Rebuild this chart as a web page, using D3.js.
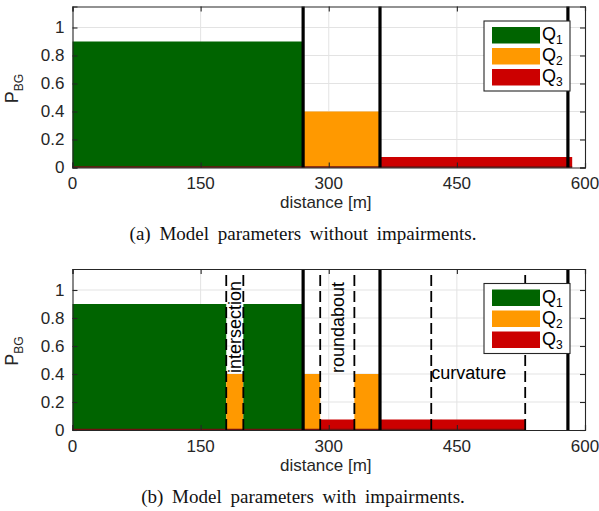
<!DOCTYPE html>
<html>
<head>
<meta charset="utf-8">
<script src="https://cdn.jsdelivr.net/npm/d3@7"></script>
<style>
  body { margin: 0; background: #fff; }
  svg { display: block; font-family: "Liberation Sans", Arial, Helvetica, sans-serif; }
</style>
</head>
<body>
<svg id="chart" width="599" height="511"></svg>
<script>
// quality levels and their colours
const levels = ['Q1', 'Q2', 'Q3'];
const levelColors = ['#006400', '#ff9900', '#cc0000'];

// (a) without impairments
const aStart = [0, 270, 360];
const aEnd = [270, 360, 585];
const aLevel = ['Q1', 'Q2', 'Q3'];
const aValue = [0.9, 0.4, 0.075];

// (b) with impairments
const bStart = [0, 180, 200, 270, 290, 330, 360];
const bEnd = [180, 200, 270, 290, 330, 360, 530];
const bLevel = ['Q1', 'Q2', 'Q1', 'Q2', 'Q3', 'Q2', 'Q3'];
const bValue = [0.9, 0.4, 0.9, 0.4, 0.075, 0.4, 0.075];

// section borders (solid) and impairment borders (dashed)
const sectionBounds = [270, 360, 580];
const impairBounds = [180, 200, 290, 330, 420, 530];
const impairLabels = ['intersection', 'roundabout', 'curvature'];
const impairLabelX = [190, 310, 420];
const impairLabelRotated = [true, true, false];

const xTicks = [0, 150, 300, 450, 600];
const yTicks = [0, 0.2, 0.4, 0.6, 0.8, 1];
const captions = ['(a) Model parameters without impairments.', '(b) Model parameters with impairments.'];

const svg = d3.select('#chart');
const axisColor = '#262626';
const x = d3.scaleLinear().domain([0, 600]).range([72.5, 585]);
const yRange = 161;

function drawPanel(top, starts, ends, lvls, vals, withImpair, caption) {
  const y = d3.scaleLinear().domain([0, 1.15]).range([top + yRange, top]);
  const g = svg.append('g');

  // grid
  g.append('g').selectAll('line').data(xTicks.slice(1, -1)).enter().append('line')
    .attr('x1', d => x(d)).attr('x2', d => x(d))
    .attr('y1', y(0)).attr('y2', y(1.15))
    .attr('stroke', '#e3e3e3').attr('stroke-width', 1);
  g.append('g').selectAll('line').data(yTicks.slice(1)).enter().append('line')
    .attr('x1', x(0)).attr('x2', x(600))
    .attr('y1', d => y(d)).attr('y2', d => y(d))
    .attr('stroke', '#e3e3e3').attr('stroke-width', 1);

  // bars
  const idx = d3.range(starts.length);
  g.append('g').selectAll('rect').data(idx).enter().append('rect')
    .attr('x', i => x(starts[i]))
    .attr('width', i => x(ends[i]) - x(starts[i]))
    .attr('y', i => y(vals[i]))
    .attr('height', i => y(0) - y(vals[i]))
    .attr('fill', i => levelColors[levels.indexOf(lvls[i])]);

  // zero-height Q3 baseline
  g.append('line')
    .attr('x1', x(0)).attr('x2', x(d3.max(ends)))
    .attr('y1', y(0) - 0.5).attr('y2', y(0) - 0.5)
    .attr('stroke', '#6e1010').attr('stroke-width', 1.5);

  // impairment borders and labels
  if (withImpair) {
    g.append('g').selectAll('line').data(impairBounds).enter().append('line')
      .attr('x1', d => x(d)).attr('x2', d => x(d))
      .attr('y1', y(0)).attr('y2', y(1.15))
      .attr('stroke', '#000').attr('stroke-width', 1.8)
      .attr('stroke-dasharray', '11,5');

    impairLabels.forEach((t, i) => {
      const px = x(impairLabelX[i]), py = y(0.4) - 1;
      g.append('text')
        .attr('transform', impairLabelRotated[i] ? `translate(${px},${py}) rotate(-90)` : `translate(${px},${py})`)
        .attr('dy', '0.35em')
        .attr('font-size', 18)
        .attr('fill', '#000')
        .text(t);
    });
  }

  // section borders
  g.append('g').selectAll('line').data(sectionBounds).enter().append('line')
    .attr('x1', d => x(d)).attr('x2', d => x(d))
    .attr('y1', y(0)).attr('y2', y(1.15))
    .attr('stroke', '#000').attr('stroke-width', 3.2);

  // axes box with inward ticks on all sides
  const tl = 5;
  g.append('g').call(d3.axisBottom(x).tickValues(xTicks).tickSize(-tl).tickFormat(''))
    .attr('transform', `translate(0,${y(0)})`);
  g.append('g').call(d3.axisTop(x).tickValues(xTicks).tickSize(-tl).tickFormat(''))
    .attr('transform', `translate(0,${y(1.15)})`);
  g.append('g').call(d3.axisLeft(y).tickValues(yTicks).tickSize(-tl).tickFormat(''))
    .attr('transform', `translate(${x(0)},0)`);
  g.append('g').call(d3.axisRight(y).tickValues(yTicks).tickSize(-tl).tickFormat(''))
    .attr('transform', `translate(${x(600)},0)`);
  g.selectAll('.domain, .tick line').attr('stroke', axisColor).attr('stroke-width', 1.1);

  // tick labels
  g.append('g').selectAll('text').data(xTicks).enter().append('text')
    .attr('x', d => x(d)).attr('y', y(0) + 21.5)
    .attr('text-anchor', 'middle').attr('font-size', 17).attr('fill', axisColor)
    .text(d => d);
  g.append('g').selectAll('text').data(yTicks).enter().append('text')
    .attr('x', x(0) - 8).attr('y', d => y(d)).attr('dy', '0.35em')
    .attr('text-anchor', 'end').attr('font-size', 17).attr('fill', axisColor)
    .text(d => d3.format('~g')(d));

  // axis labels
  g.append('text')
    .attr('x', (x(0) + x(600)) / 2 - 3).attr('y', y(0) + 40.5)
    .attr('text-anchor', 'middle').attr('font-size', 17).attr('fill', axisColor)
    .text('distance [m]');
  const yl = g.append('text')
    .attr('transform', `translate(18,${top + 82}) rotate(-90)`)
    .attr('text-anchor', 'middle').attr('font-size', 18).attr('fill', axisColor);
  yl.append('tspan').text('P');
  yl.append('tspan').attr('font-size', 12).attr('dy', 5).text('BG');

  // legend
  const lg = g.append('g').attr('transform', `translate(484,${top + 14.5})`);
  lg.append('rect').attr('width', 86).attr('height', 70)
    .attr('fill', '#fff').attr('stroke', axisColor).attr('stroke-width', 1.1);
  levels.forEach((q, i) => {
    lg.append('rect')
      .attr('x', 8).attr('y', 6 + i * 21).attr('width', 48).attr('height', 16.5)
      .attr('fill', levelColors[i]);
    const t = lg.append('text')
      .attr('x', 58).attr('y', 19 + i * 21)
      .attr('font-size', 18).attr('fill', '#000');
    t.append('tspan').text(q[0]);
    t.append('tspan').attr('font-size', 12).attr('dy', 4).text(q.slice(1));
  });

  // caption
  svg.append('text')
    .attr('x', 303).attr('y', top + yRange + 72.5)
    .attr('text-anchor', 'middle')
    .attr('font-family', '"Liberation Serif", "Times New Roman", serif')
    .attr('font-size', 19).attr('word-spacing', 4).attr('fill', '#111')
    .text(caption);
}

drawPanel(6.5, aStart, aEnd, aLevel, aValue, false, captions[0]);
drawPanel(269, bStart, bEnd, bLevel, bValue, true, captions[1]);
</script>
</body>
</html>
